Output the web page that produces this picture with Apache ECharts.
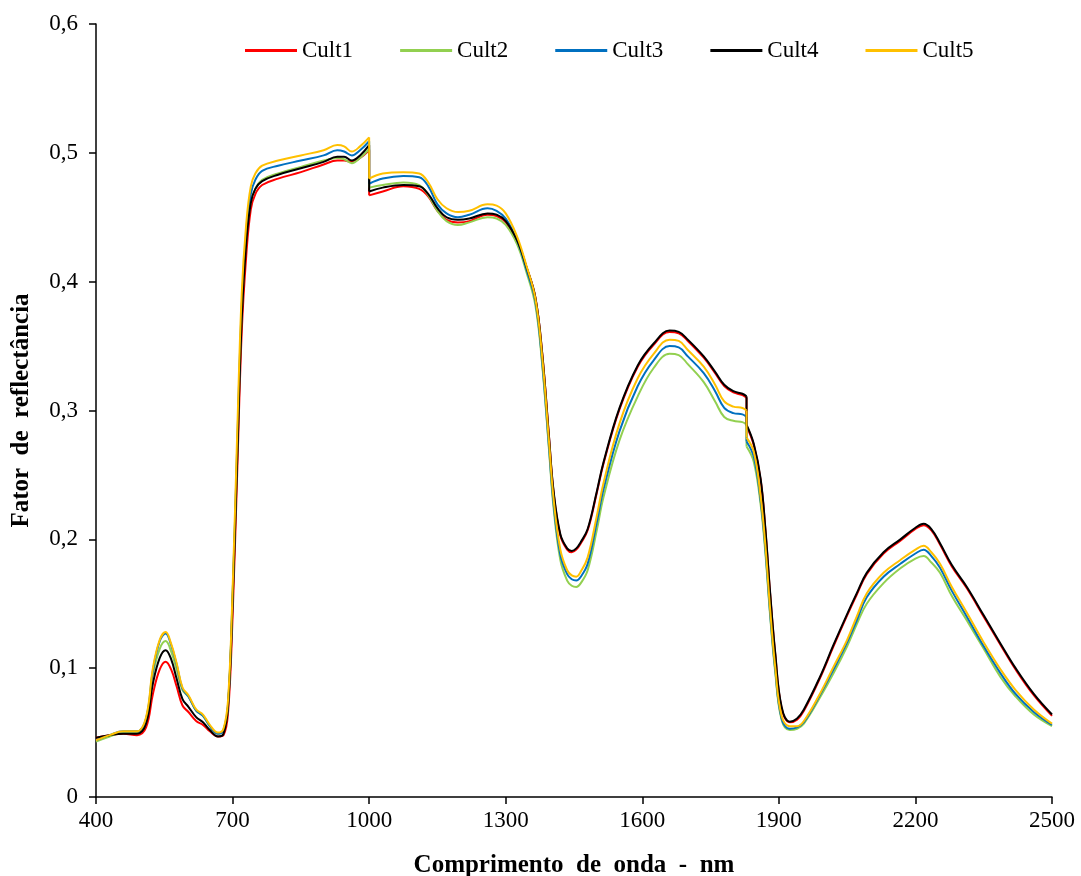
<!DOCTYPE html>
<html><head><meta charset="utf-8">
<script src="https://cdn.jsdelivr.net/npm/echarts@6/dist/echarts.min.js"></script>
<style>html,body{margin:0;padding:0;background:#fff}#c{width:1081px;height:876px}</style>
</head><body><div id="c"></div>
<script>
// wavelength (nm); a repeated value marks a vertical step in the spectra (detector change)
const wavelengths = [400,430,460,490,510,525,540,553,565,577,590,603,620,635,650,668,680,690,700,710,720,730,740,750,765,800,850,900,930,945,962,980,1000,1000,1030,1075,1110,1130,1150,1170,1195,1220,1260,1280,1300,1325,1345,1365,1380,1395,1405,1420,1435,1445,1455,1465,1480,1500,1515,1550,1590,1625,1660,1680,1700,1735,1760,1780,1800,1820,1829,1829,1845,1860,1870,1881,1892,1906,1924,1940,1955,1990,2020,2050,2071,2093,2130,2167,2200,2218,2235,2254,2280,2313,2350,2387,2420,2460,2500];

const cult1 = [0.046,0.048,0.049,0.048,0.054,0.080,0.099,0.105,0.099,0.086,
0.071,0.066,0.059,0.056,0.051,0.047,0.048,0.065,0.140,0.250,
0.360,0.420,0.456,0.468,0.475,0.480,0.485,0.491,0.494,0.494,
0.493,0.496,0.502,0.467,0.470,0.474,0.472,0.466,0.455,0.448,
0.446,0.447,0.452,0.451,0.446,0.432,0.412,0.388,0.345,0.280,
0.237,0.203,0.192,0.190,0.192,0.197,0.207,0.236,0.259,0.301,
0.334,0.351,0.361,0.360,0.354,0.341,0.329,0.319,0.314,0.312,
0.310,0.288,0.273,0.246,0.209,0.157,0.111,0.069,0.058,0.060,
0.067,0.092,0.117,0.141,0.157,0.173,0.189,0.199,0.208,0.211,
0.207,0.196,0.179,0.162,0.140,0.118,0.099,0.079,0.063];

const cult2 = [0.043,0.047,0.050,0.050,0.060,0.095,0.115,0.121,0.113,0.099,
0.083,0.078,0.067,0.063,0.055,0.049,0.052,0.070,0.155,0.265,
0.375,0.435,0.462,0.472,0.479,0.484,0.489,0.494,0.496,0.495,
0.492,0.496,0.503,0.473,0.475,0.477,0.475,0.467,0.455,0.447,
0.444,0.446,0.450,0.449,0.444,0.429,0.408,0.382,0.336,0.270,
0.225,0.184,0.168,0.164,0.163,0.166,0.176,0.207,0.233,0.277,
0.311,0.333,0.344,0.343,0.336,0.322,0.307,0.295,0.292,0.291,
0.289,0.272,0.260,0.227,0.191,0.140,0.097,0.060,0.052,0.053,
0.057,0.077,0.096,0.117,0.134,0.150,0.166,0.1775,0.185,0.187,
0.182,0.174,0.156,0.137,0.115,0.093,0.078,0.064,0.055];

const cult3 = [0.044,0.048,0.051,0.051,0.061,0.098,0.121,0.127,0.118,0.103,
0.084,0.078,0.067,0.063,0.055,0.049,0.052,0.072,0.155,0.270,
0.380,0.438,0.468,0.479,0.486,0.490,0.494,0.498,0.502,0.501,
0.498,0.502,0.509,0.476,0.480,0.482,0.481,0.474,0.460,0.453,
0.450,0.452,0.457,0.455,0.449,0.432,0.410,0.385,0.338,0.272,
0.228,0.188,0.173,0.169,0.168,0.171,0.181,0.213,0.239,0.284,
0.319,0.339,0.350,0.349,0.342,0.329,0.315,0.302,0.298,0.297,
0.295,0.276,0.264,0.230,0.194,0.142,0.099,0.061,0.053,0.054,
0.058,0.079,0.099,0.120,0.137,0.155,0.171,0.181,0.189,0.192,
0.187,0.178,0.160,0.140,0.117,0.096,0.080,0.066,0.056];

const cult4 = [0.046,0.048,0.049,0.049,0.057,0.088,0.108,0.114,0.107,0.092,
0.076,0.070,0.062,0.058,0.052,0.047,0.049,0.070,0.150,0.260,
0.370,0.430,0.461,0.472,0.478,0.483,0.488,0.493,0.497,0.497,
0.494,0.498,0.506,0.470,0.473,0.475,0.474,0.468,0.457,0.450,
0.448,0.449,0.453,0.452,0.447,0.432,0.412,0.388,0.345,0.280,
0.238,0.204,0.193,0.191,0.193,0.198,0.208,0.237,0.260,0.302,
0.335,0.352,0.362,0.361,0.355,0.342,0.330,0.320,0.315,0.313,
0.311,0.289,0.274,0.247,0.210,0.158,0.112,0.070,0.0585,0.061,
0.068,0.093,0.118,0.142,0.158,0.174,0.190,0.200,0.209,0.212,
0.208,0.197,0.180,0.163,0.141,0.119,0.100,0.080,0.064];

const cult5 = [0.044,0.048,0.051,0.051,0.062,0.100,0.122,0.128,0.119,0.104,
0.085,0.079,0.068,0.064,0.056,0.050,0.053,0.075,0.160,0.280,
0.390,0.445,0.474,0.484,0.490,0.494,0.498,0.502,0.506,0.505,
0.501,0.505,0.512,0.480,0.484,0.485,0.484,0.477,0.464,0.457,
0.454,0.455,0.460,0.459,0.453,0.435,0.413,0.387,0.342,0.276,
0.232,0.192,0.176,0.172,0.171,0.175,0.186,0.218,0.244,0.290,
0.325,0.344,0.355,0.354,0.347,0.334,0.320,0.307,0.303,0.302,
0.300,0.279,0.268,0.233,0.197,0.145,0.101,0.063,0.055,0.055,
0.059,0.080,0.101,0.122,0.140,0.158,0.174,0.184,0.192,0.195,
0.190,0.181,0.163,0.143,0.120,0.099,0.083,0.068,0.057];

const seriesNames = ['Cult1','Cult2','Cult3','Cult4','Cult5'];
const seriesValues = [cult1, cult2, cult3, cult4, cult5];
const seriesColors = ['#FF0000','#92D050','#0070C0','#000000','#FFC000'];
const xTickLabels = ['400','700','1000','1300','1600','1900','2200','2500'];
const yTickLabels = ['0','0,1','0,2','0,3','0,4','0,5','0,6'];
const xTitle = 'Comprimento  de  onda  -  nm';
const yTitle = 'Fator  de  reflectância';
const X_START = 400;

const font = '"Liberation Serif","Times New Roman",serif';

// build series: smooth segments between vertical steps, plus straight step connectors
const series = [];
seriesNames.forEach((name, i) => {
  const vals = seriesValues[i];
  const color = seriesColors[i];
  let seg = [];
  const segs = [];
  const steps = [];
  for (let k = 0; k < wavelengths.length; k++) {
    const pt = [wavelengths[k] - X_START, vals[k]];
    if (k > 0 && wavelengths[k] === wavelengths[k - 1]) {
      segs.push(seg);
      steps.push([[wavelengths[k - 1] - X_START, vals[k - 1]], pt]);
      seg = [];
    }
    seg.push(pt);
  }
  segs.push(seg);
  const base = {name, type: 'line', showSymbol: false, symbol: 'none',
    lineStyle: {color, width: 2}, itemStyle: {color}, z: 2 + i};
  segs.forEach(s => series.push(Object.assign({}, base, {smooth: 0.4, data: s})));
  steps.forEach(s => series.push(Object.assign({}, base, {smooth: false, data: s})));
});

const chart = echarts.init(document.getElementById('c'), null, {renderer:'canvas'});
chart.setOption({
  animation: false,
  backgroundColor: '#fff',
  textStyle: {fontFamily: font},
  grid: {left: 96, right: 29, top: 24, bottom: 79, containLabel: false, outerBoundsMode: 'none'},
  legend: {
    top: 34, left: 240, itemGap: 47, itemWidth: 52, itemHeight: 3, icon: 'rect',
    textStyle: {fontFamily: font, fontSize: 23, color: '#000', padding: [0, 0, 0, 0]},
    data: seriesNames
  },
  xAxis: {
    type: 'value', min: 0, max: 2100, interval: 300,
    name: xTitle, nameLocation: 'middle', nameGap: 56,
    nameTextStyle: {fontFamily: font, fontSize: 25, fontWeight: 'bold', color: '#000'},
    axisLine: {lineStyle: {color: '#000', width: 1.5}},
    axisTick: {show: true, inside: false, length: 7, lineStyle: {color: '#000', width: 1.5}},
    axisLabel: {fontFamily: font, fontSize: 23, color: '#000', margin: 12,
      formatter: v => xTickLabels[Math.round(v / 300)]},
    splitLine: {show: false}
  },
  yAxis: {
    type: 'value', min: 0, max: 0.6, interval: 0.1,
    name: yTitle, nameLocation: 'middle', nameGap: 62,
    nameTextStyle: {fontFamily: font, fontSize: 25, fontWeight: 'bold', color: '#000'},
    axisLine: {show: true, lineStyle: {color: '#000', width: 1.5}},
    axisTick: {show: true, inside: false, length: 7, lineStyle: {color: '#000', width: 1.5}},
    axisLabel: {fontFamily: font, fontSize: 23, color: '#000', margin: 18,
      formatter: v => yTickLabels[Math.round(v * 10)]},
    splitLine: {show: false}
  },
  series
});
</script></body></html>
